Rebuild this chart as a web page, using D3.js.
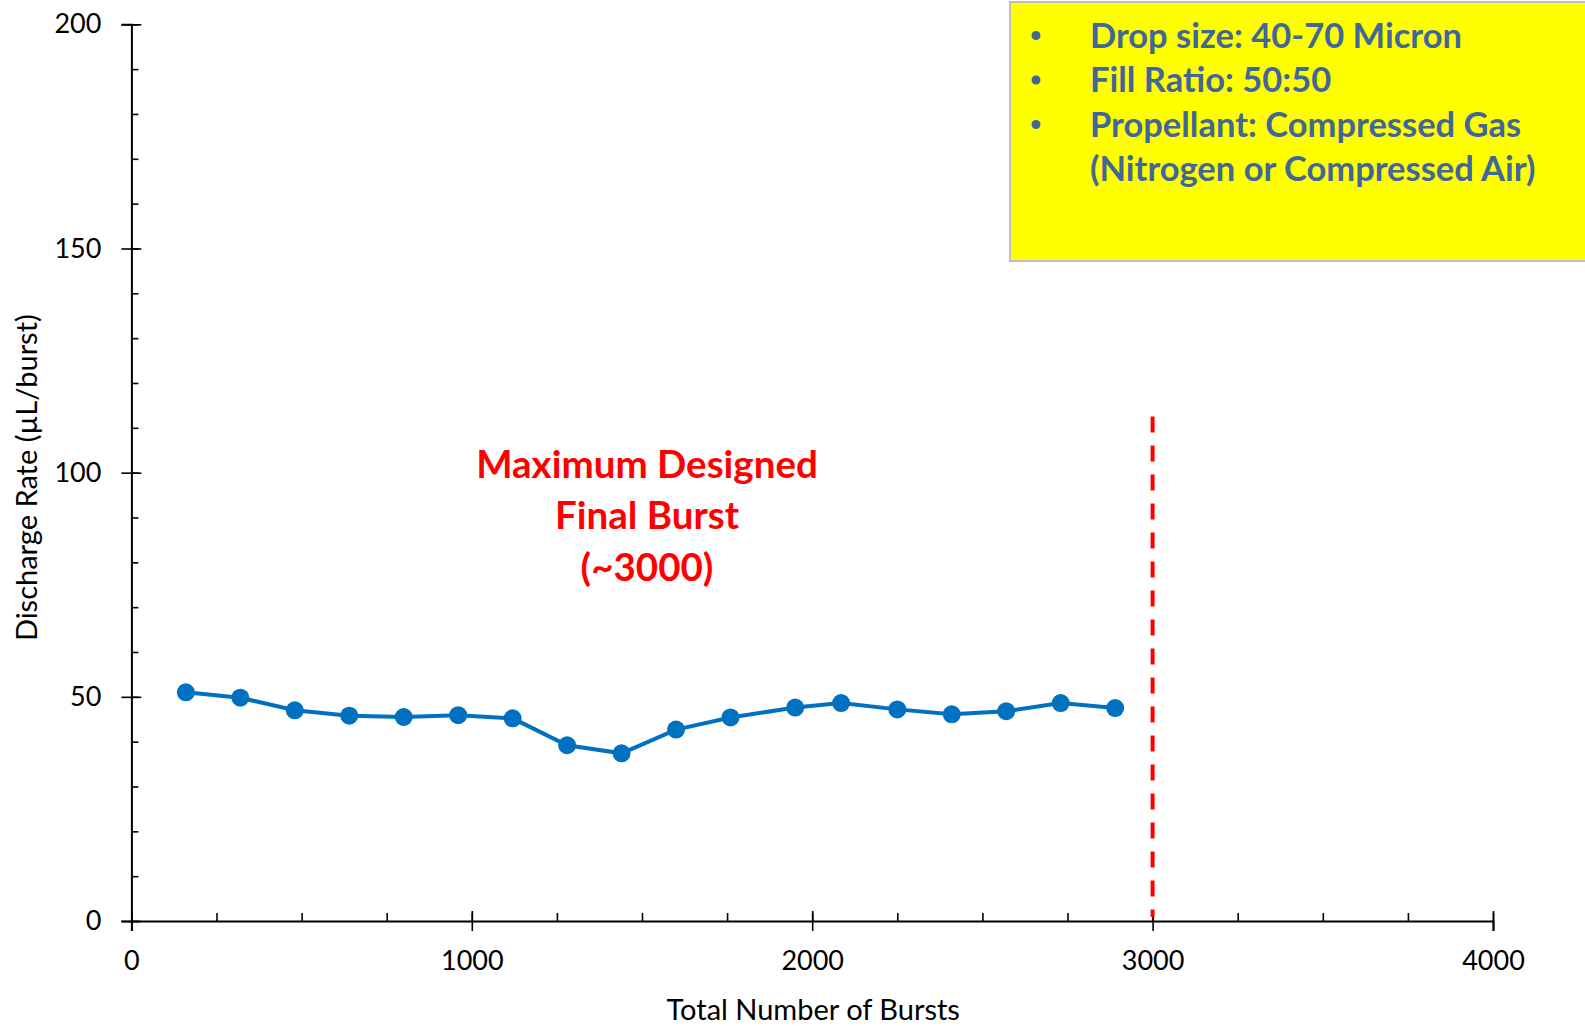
<!DOCTYPE html>
<html>
<head>
<meta charset="utf-8">
<script src="https://cdn.jsdelivr.net/npm/d3@7"></script>
<style>
  body { margin: 0; background: #fff; }
  svg { display: block; font-family: Lato, "Open Sans", sans-serif; }
</style>
</head>
<body>
<div id="chart"></div>
<script>
// values
const bursts = [160, 320, 480, 640, 800, 960, 1120, 1280, 1440, 1600, 1760, 1950, 2085, 2250, 2410, 2570, 2730, 2890]
const rate = [51.0, 49.8, 47.0, 45.8, 45.5, 45.9, 45.2, 39.2, 37.4, 42.7, 45.4, 47.6, 48.6, 47.2, 46.1, 46.8, 48.6, 47.5]
const xTicks = [0, 1000, 2000, 3000, 4000]
const yTicks = [0, 50, 100, 150, 200]
const finalBurst = 3000
const finalLineTop = 112.5
const noteLines = ["Maximum Designed", "Final Burst", "(~3000)"]
const boxLines = ["Drop size: 40-70 Micron", "Fill Ratio: 50:50", "Propellant: Compressed Gas", "(Nitrogen or Compressed Air)"]
const boxBullets = [true, true, true, false]

function drawChart() {
    let dimensions = {
        width: 1585, height: 1026,
        margin: { top: 24.3, right: 92, bottom: 105, left: 131.4 },
    }
    dimensions.boundedWidth = dimensions.width - dimensions.margin.left - dimensions.margin.right
    dimensions.boundedHeight = dimensions.height - dimensions.margin.top - dimensions.margin.bottom

    const root = d3.select("#chart").append("svg")
        .attr("width", dimensions.width)
        .attr("height", dimensions.height)

    const svg = root.append("g")
        .attr("transform", `translate(${dimensions.margin.left},${dimensions.margin.top})`)

    const xScale = d3.scaleLinear().domain([0, 4000]).range([0, dimensions.boundedWidth])
    const yScale = d3.scaleLinear().domain([0, 200]).range([dimensions.boundedHeight, 0])

    // minor ticks (pointing inward)
    svg.append("g")
        .call(d3.axisRight(yScale).tickValues(d3.range(0, 201, 10)).tickSize(7).tickFormat(""))
        .call(g => g.select(".domain").remove())
        .selectAll("line").attr("stroke", "#000").attr("stroke-width", 1.6)
    svg.append("g")
        .attr("transform", `translate(0,${dimensions.boundedHeight})`)
        .call(d3.axisTop(xScale).tickValues(d3.range(0, 4001, 250)).tickSize(8).tickFormat(""))
        .call(g => g.select(".domain").remove())
        .selectAll("line").attr("stroke", "#000").attr("stroke-width", 1.6)

    // major axes with crossing ticks
    const yAxis = svg.append("g")
        .call(d3.axisLeft(yScale).tickValues(yTicks).tickSize(10).tickPadding(20).tickFormat(d3.format("d")))
    yAxis.selectAll(".tick line").attr("x1", 10)
    const xAxis = svg.append("g")
        .attr("transform", `translate(0,${dimensions.boundedHeight})`)
        .call(d3.axisBottom(xScale).tickValues(xTicks).tickSize(10).tickPadding(20).tickFormat(d3.format("d")))
    xAxis.selectAll(".tick line").attr("y1", -10)

    ;[yAxis, xAxis].forEach(ax => {
        ax.select(".domain").attr("stroke", "#000").attr("stroke-width", 2)
        ax.selectAll(".tick line").attr("stroke", "#000").attr("stroke-width", 1.6)
        ax.selectAll("text").attr("fill", "#000").style("font-size", "27px").style("font-family", "Lato")
    })

    // axis titles
    svg.append("text")
        .attr("x", xScale(2000) + 1)
        .attr("y", dimensions.boundedHeight + 99)
        .attr("text-anchor", "middle")
        .style("font-size", "29px")
        .text("Total Number of Bursts")
    svg.append("text")
        .attr("transform", `translate(${27 - dimensions.margin.left + 10},${yScale(100) + 5}) rotate(-90)`)
        .attr("text-anchor", "middle")
        .style("font-size", "29px")
        .text("Discharge Rate (µL/burst)")

    // dashed final burst line
    svg.append("line")
        .attr("x1", xScale(finalBurst)).attr("x2", xScale(finalBurst))
        .attr("y1", yScale(finalLineTop)).attr("y2", yScale(0) - 4)
        .attr("stroke", "#FF0000")
        .attr("stroke-width", 4)
        .attr("stroke-dasharray", "16 13")

    // data line
    const line = d3.line()
        .x((d, i) => xScale(bursts[i]))
        .y(d => yScale(d))
    svg.append("path")
        .attr("d", line(rate))
        .attr("fill", "none")
        .attr("stroke", "#0070C0")
        .attr("stroke-width", 4)
    svg.selectAll(".dot").data(rate).enter().append("circle")
        .attr("class", "dot")
        .attr("cx", (d, i) => xScale(bursts[i]))
        .attr("cy", d => yScale(d))
        .attr("r", 9)
        .attr("fill", "#0070C0")

    // red annotation
    const note = svg.append("text")
        .attr("text-anchor", "middle")
        .attr("fill", "#FF0000")
        .style("font-size", "38.5px")
        .style("font-weight", "bold")
    noteLines.forEach((t, i) => {
        note.append("tspan")
            .attr("x", 647 - dimensions.margin.left)
            .attr("y", 478 - dimensions.margin.top + i * 51.5)
            .text(t)
    })

    // yellow info box
    const box = root.append("g")
    box.append("rect")
        .attr("x", 1010).attr("y", 2)
        .attr("width", 600).attr("height", 259)
        .attr("fill", "#FFFF00")
        .attr("stroke", "#BFBFBF")
        .attr("stroke-width", 2)
    boxLines.forEach((t, i) => {
        const by = 47.5 + i * 44.5
        if (boxBullets[i]) {
            box.append("circle")
                .attr("cx", 1036).attr("cy", by - 12)
                .attr("r", 4.5)
                .attr("fill", "#41679A")
        }
        box.append("text")
            .attr("x", 1090).attr("y", by)
            .attr("fill", "#41679A")
            .style("font-size", "34.5px")
            .style("font-weight", "bold")
            .text(t)
    })
}
drawChart()
</script>
</body>
</html>
